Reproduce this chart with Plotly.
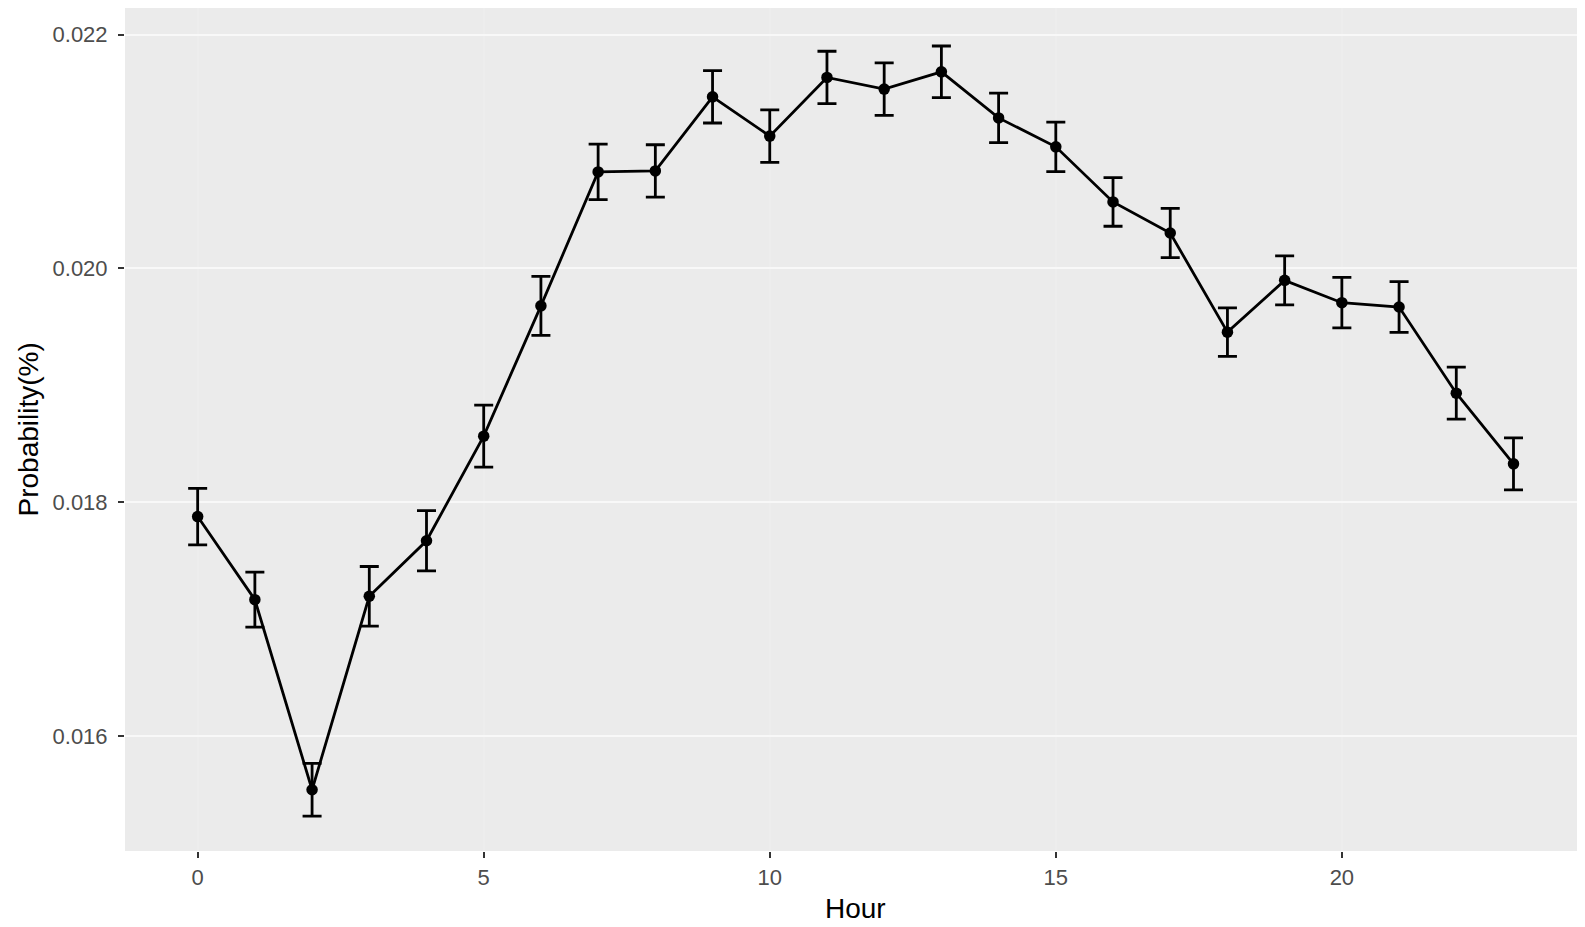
import plotly.graph_objects as go

hours = list(range(24))
probability = [0.017876, 0.017165, 0.015539, 0.017194, 0.017669, 0.018564, 0.019679,
               0.020825, 0.020833, 0.021467, 0.021131, 0.021633, 0.021533, 0.021681,
               0.021287, 0.021039, 0.020568, 0.020302, 0.019454, 0.019897, 0.019706,
               0.019669, 0.018932, 0.018327]
std_err = [0.000242, 0.000235, 0.000226, 0.000255, 0.000258, 0.000265, 0.000252,
           0.000237, 0.000224, 0.000224, 0.000225, 0.000224, 0.000224, 0.000221,
           0.000212, 0.000212, 0.000208, 0.000210, 0.000207, 0.000210, 0.000216,
           0.000217, 0.000223, 0.000223]
x_ticks = [0, 5, 10, 15, 20]
y_ticks = [0.016, 0.018, 0.020, 0.022]
x_title = "Hour"
y_title = "Probability(%)"

fig = go.Figure()
fig.add_trace(go.Scatter(
    x=hours, y=probability,
    mode="lines+markers",
    line=dict(color="black", width=2.8),
    marker=dict(color="black", size=11.5),
    error_y=dict(type="data", array=std_err, visible=True,
                 color="black", thickness=2.8, width=9.5),
    showlegend=False,
))

font_family = "Liberation Sans, Arial, Helvetica, sans-serif"
# the page body adds an 8px margin at top-left, so the figure is 8px smaller
fig.update_layout(
    width=1577, height=919,
    margin=dict(l=117, r=0, t=0, b=76),
    paper_bgcolor="white",
    plot_bgcolor="#EBEBEB",
    font=dict(family=font_family, color="#4D4D4D", size=22),
    xaxis=dict(
        range=[-1.27, 24.25],
        tickvals=x_ticks,
        ticks="outside", ticklen=6, tickcolor="#333333", tickwidth=1.5,
        showgrid=True, gridcolor="#EDEDED", gridwidth=1.5,
        zeroline=False, showline=False, automargin=False,
        tickfont=dict(size=22, color="#4D4D4D"),
        ticklabelstandoff=1,
    ),
    yaxis=dict(
        range=[0.015015, 0.022227],
        tickvals=y_ticks, tickformat=".3f",
        ticks="outside", ticklen=6, tickcolor="#333333", tickwidth=1.5,
        showgrid=True, gridcolor="#F8F8F8", gridwidth=2,
        zeroline=False, showline=False, automargin=False,
        tickfont=dict(size=22, color="#4D4D4D"),
        ticklabelstandoff=6,
    ),
    annotations=[
        dict(text=x_title, xref="paper", yref="paper", x=0.5, y=0,
             xanchor="center", yanchor="middle", yshift=-57, showarrow=False,
             font=dict(size=28, color="black", family=font_family)),
        dict(text=y_title, xref="paper", yref="paper", x=0, y=0.5,
             xanchor="center", yanchor="middle", xshift=-97, textangle=-90,
             showarrow=False,
             font=dict(size=28, color="black", family=font_family)),
    ],
)

fig.write_html("out.html")
